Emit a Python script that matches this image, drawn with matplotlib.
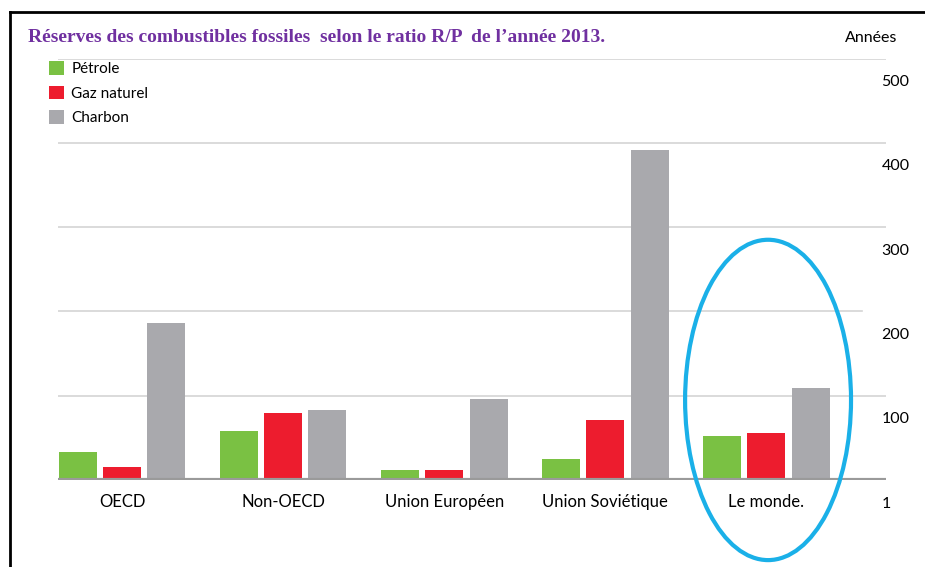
import matplotlib.pyplot as plt
import matplotlib.transforms as mtransforms
from matplotlib.patches import Ellipse, Patch
import numpy as np

# data (années, ratio R/P 2013)
regions = ['OECD', 'Non-OECD', 'Union Européen', 'Union Soviétique', 'Le monde.']
petrole = [33, 58, 12, 25, 52]
gaz = [15, 79, 12, 71, 56]
charbon = [186, 83, 96, 391, 109]
series_names = ['Pétrole', 'Gaz naturel', 'Charbon']
colors = ['#7ac143', '#ed1c2e', '#a9a9ad']
ytick_vals = [0, 100, 200, 300, 400, 500]
ytick_labels = ['1', '100', '200', '300', '400', '500']

sans = ['Lato', 'DejaVu Sans']

fig = plt.figure(figsize=(9.25, 5.67), dpi=100)
ax = fig.add_axes([0.0627, 0.1534, 0.8946, 0.7434])

x = np.arange(len(regions))
w = 0.236
step = 0.275
for vals, off, c in zip([petrole, gaz, charbon], [-step, 0, step], colors):
    ax.bar(x + off, vals, width=w, color=c, zorder=3)

ax.set_xlim(-0.3975, 4.739)
ax.set_ylim(0, 500)

# gridlines
for v in ytick_vals[1:]:
    xmax = 0.971 if v == 200 else 1.0
    ax.axhline(v, xmax=xmax, color='#d4d4d4', lw=1.2, zorder=1)
ax.axhline(0, color='#9a9a9a', lw=3, zorder=4)

for s in ax.spines.values():
    s.set_visible(False)

ax.set_xticks(x)
ax.set_xticklabels(regions, fontsize=12, family=sans)
ax.tick_params(axis='x', length=0, pad=10)

ax.yaxis.tick_right()
ax.set_yticks(ytick_vals)
ax.set_yticklabels(ytick_labels, fontsize=11.5, family=sans)
ax.tick_params(axis='y', length=0, pad=0)
offset = mtransforms.ScaledTranslation(-4 / 100, -22 / 100, fig.dpi_scale_trans)
for lab in ax.get_yticklabels():
    lab.set_transform(lab.get_transform() + offset)

# blue circle round "Le monde."
ell = Ellipse((4.01, 95), width=1.03, height=380, fill=False,
              edgecolor='#1ab0e8', lw=3, clip_on=False, zorder=5)
ax.add_patch(ell)

# legend
handles = [Patch(facecolor=c, edgecolor='none') for c in colors]
fig.legend(handles, series_names, loc='upper left',
           bbox_to_anchor=(49 / 925, 1 - 61 / 567), frameon=False,
           prop={'family': sans, 'size': 11}, handlelength=1.0,
           handleheight=1.0, handletextpad=0.45, labelspacing=0.62,
           borderpad=0, borderaxespad=0)

fig.text(28 / 925, 1 - 38 / 567,
         "Réserves des combustibles fossiles  selon le ratio R/P  de l’année 2013.",
         family=['Liberation Serif', 'DejaVu Serif'], fontweight='bold',
         color='#7030a0', fontsize=14, va='center', ha='left')
fig.text(897 / 925, 1 - 38 / 567, 'Années', family=sans, fontsize=11.5,
         va='center', ha='right')

# frame of the original image
fig.add_artist(plt.Line2D([10 / 925, 10 / 925], [0, 1 - 12 / 567],
                          transform=fig.transFigure, color='black', lw=2))
fig.add_artist(plt.Line2D([10 / 925, 1], [1 - 12 / 567, 1 - 12 / 567],
                          transform=fig.transFigure, color='black', lw=2))

fig.savefig('out.png', dpi=100)
